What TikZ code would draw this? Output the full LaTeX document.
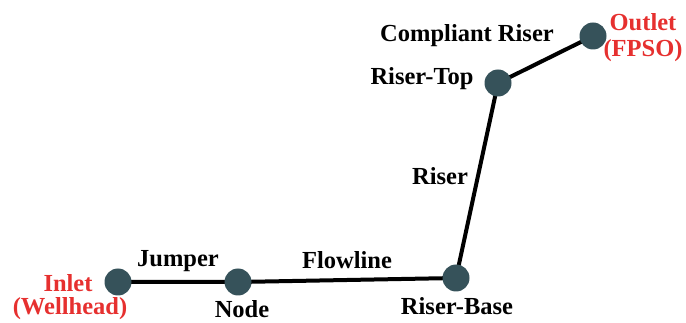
\documentclass[tikz,border=0pt]{standalone}
\usepackage{fontspec}
\setmainfont{Liberation Serif}
\definecolor{nodefill}{HTML}{36525A}
\definecolor{labred}{HTML}{E6302F}
\begin{document}
\begin{tikzpicture}[x=1pt,y=-1pt,
  pt/.style={circle,fill=nodefill,minimum size=27pt,inner sep=0pt},
  pipe/.style={line width=4pt,black},
  lbl/.style={font=\fontsize{24.5}{26}\selectfont\bfseries,inner sep=0pt,text=black},
  redlbl/.style={font=\fontsize{24.5}{26}\selectfont\bfseries,inner sep=0pt,text=labred,align=center}]
\useasboundingbox (0,0) rectangle (686,323);
\coordinate (cin) at (118,282);
\coordinate (cnode) at (238,282);
\coordinate (cbase) at (456,278);
\coordinate (ctop) at (498,83);
\coordinate (cout) at (593,36);
\draw[pipe] (cin) -- (cnode) -- (cbase) -- (ctop) -- (cout);
\node[pt] (inlet) at (cin) {};
\node[pt] (node) at (cnode) {};
\node[pt] (base) at (cbase) {};
\node[pt] (top) at (ctop) {};
\node[pt] (outlet) at (cout) {};
\node[redlbl] (tinlet) at (68,283) {Inlet};
\node[redlbl] (twell) at (70,309) {(Wellhead)};
\node[lbl] (tnode) at (242,309) {Node};
\node[lbl] (tjumper) at (178,261) {Jumper};
\node[lbl] (tflow) at (347,260) {Flowline};
\node[lbl] (tbase) at (457,306) {Riser-Base};
\node[lbl] (triser) at (440,176) {Riser};
\node[lbl] (ttop) at (422,79) {Riser-Top};
\node[lbl] (tcomp) at (467,36) {Compliant Riser};
\node[redlbl] (tout) at (643,22) {Outlet};
\node[redlbl] (tfpso) at (643,51) {(FPSO)};
\end{tikzpicture}
\end{document}
